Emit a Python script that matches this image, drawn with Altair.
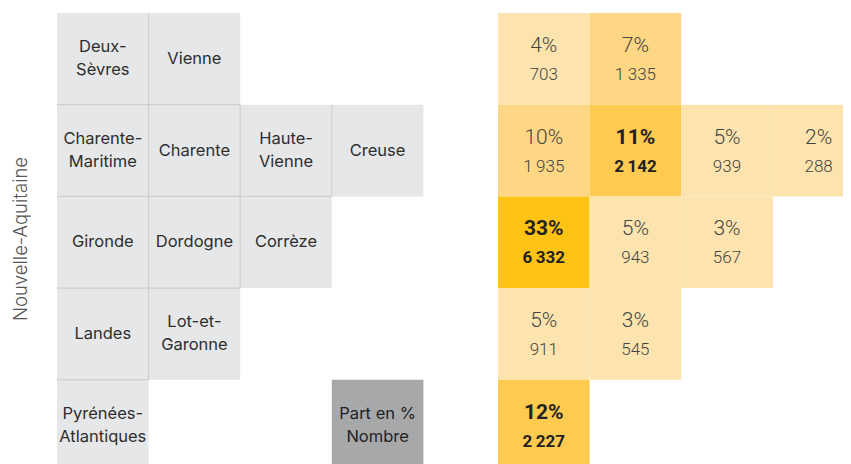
import altair as alt
import pandas as pd

# ---- data ----
names = ["Deux-\nSèvres", "Vienne", "Charente-\nMaritime", "Charente", "Haute-\nVienne",
         "Creuse", "Gironde", "Dordogne", "Corrèze", "Landes", "Lot-et-\nGaronne",
         "Pyrénées-\nAtlantiques"]
cols = [0, 1, 0, 1, 2, 3, 0, 1, 2, 0, 1, 0]
rows = [0, 0, 1, 1, 1, 1, 2, 2, 2, 3, 3, 4]
shares = [4, 7, 10, 11, 5, 2, 33, 5, 3, 5, 3, 12]
counts = [703, 1335, 1935, 2142, 939, 288, 6332, 943, 567, 911, 545, 2227]
legend_text = ["Part en %\nNombre"]
legend_col = [3]
legend_row = [4]
region = ["Nouvelle-Aquitaine"]

df = pd.DataFrame({
    "name": names, "col": cols, "row": rows, "share": shares, "count": counts,
})
df["pct_label"] = [f"{s}%" for s in shares]
df["count_label"] = [f"{c:,}".replace(",", "\u2009") for c in counts]
occupied = set(zip(cols, rows))
df["has_left"] = [(c - 1, r) in occupied for c, r in zip(cols, rows)]
df["has_up"] = [(c, r - 1) in occupied for c, r in zip(cols, rows)]
leg = pd.DataFrame({"name": legend_text, "col": legend_col, "row": legend_row})
reg = pd.DataFrame({"t": region})

# ---- layout ----
W, H = 835, 470
X_LEFT, X_RIGHT, Y_TOP = 57, 498, 13
CW, CH = 91.6, 91.7
LINE_H = 23
NAME_FONT = "Inter"
NUM_FONT = "Roboto"

xs = alt.Scale(domain=[8, 8 + W], nice=False, zero=False)
ys = alt.Scale(domain=[8, 8 + H], nice=False, zero=False, reverse=True)


def place(chart, x0):
    return chart.transform_calculate(
        x0=f"{x0} + datum.col * {CW}",
        x1=f"{x0} + (datum.col + 1) * {CW}",
        xc=f"{x0} + (datum.col + 0.5) * {CW}",
        y0=f"{Y_TOP} + datum.row * {CH}",
        y1=f"{Y_TOP} + (datum.row + 1) * {CH}",
        yc=f"{Y_TOP} + (datum.row + 0.5) * {CH} - (indexof(datum.name, '\\n') >= 0 ? {LINE_H / 2} : 0)",
        yp=f"{Y_TOP} + (datum.row + 0.5) * {CH} - 13",
        yn=f"{Y_TOP} + (datum.row + 0.5) * {CH} + 16",
        level="datum.share >= 30 ? 'd' : datum.share >= 11 ? 'c' : datum.share >= 7 ? 'b' : 'a'",
    )


rect_enc = dict(
    x=alt.X("x0:Q", scale=xs, axis=None), x2="x1:Q",
    y=alt.Y("y0:Q", scale=ys, axis=None), y2="y1:Q",
)

# left grid: department names
left_rect = place(alt.Chart(df).mark_rect(fill="#e6e7e8"), X_LEFT).encode(**rect_enc)
v_lines = place(alt.Chart(df).mark_rule(color="#c9c9c9", strokeWidth=1), X_LEFT).transform_filter(
    "datum.has_left").encode(x=alt.X("x0:Q", scale=xs, axis=None),
                             y=alt.Y("y0:Q", scale=ys, axis=None), y2="y1:Q")
h_lines = place(alt.Chart(df).mark_rule(color="#c9c9c9", strokeWidth=1), X_LEFT).transform_filter(
    "datum.has_up").encode(y=alt.Y("y0:Q", scale=ys, axis=None),
                           x=alt.X("x0:Q", scale=xs, axis=None), x2="x1:Q")
left_text = place(alt.Chart(df).mark_text(
    font=NAME_FONT, fontSize=16.5, color="#2e2e2e", lineBreak="\n", lineHeight=LINE_H, baseline="middle"
), X_LEFT).encode(
    x=alt.X("xc:Q", scale=xs, axis=None), y=alt.Y("yc:Q", scale=ys, axis=None), text="name:N"
)

# legend cell
leg_rect = place(alt.Chart(leg).mark_rect(fill="#a7a8aa"), X_LEFT).encode(**rect_enc)
leg_text = place(alt.Chart(leg).mark_text(
    font=NAME_FONT, fontSize=16.5, color="#222222", lineBreak="\n", lineHeight=LINE_H, baseline="middle"
), X_LEFT).encode(
    x=alt.X("xc:Q", scale=xs, axis=None), y=alt.Y("yc:Q", scale=ys, axis=None), text="name:N"
)

# right grid: shares and counts
color_scale = alt.Scale(domain=["a", "b", "c", "d"],
                        range=["#fde4af", "#fdd784", "#fecb50", "#ffc316"])
right_rect = place(alt.Chart(df).mark_rect(), X_RIGHT).encode(
    **rect_enc, color=alt.Color("level:N", scale=color_scale, legend=None)
)

xy_p = dict(x=alt.X("xc:Q", scale=xs, axis=None), y=alt.Y("yp:Q", scale=ys, axis=None))
xy_n = dict(x=alt.X("xc:Q", scale=xs, axis=None), y=alt.Y("yn:Q", scale=ys, axis=None))

pct_reg = place(alt.Chart(df).mark_text(font=NUM_FONT, fontSize=21, fontWeight=300, color="#444444", baseline="middle"),
                X_RIGHT).transform_filter("datum.share < 11").encode(**xy_p, text="pct_label:N")
pct_bold = place(alt.Chart(df).mark_text(font=NUM_FONT, fontSize=21, fontWeight="bold", color="#222222", baseline="middle"),
                 X_RIGHT).transform_filter("datum.share >= 11").encode(**xy_p, text="pct_label:N")
cnt_reg = place(alt.Chart(df).mark_text(font=NUM_FONT, fontSize=17, fontWeight=300, color="#444444", baseline="middle"),
                X_RIGHT).transform_filter("datum.share < 11").encode(**xy_n, text="count_label:N")
cnt_bold = place(alt.Chart(df).mark_text(font=NUM_FONT, fontSize=17, fontWeight="bold", color="#222222", baseline="middle"),
                 X_RIGHT).transform_filter("datum.share >= 11").encode(**xy_n, text="count_label:N")

# vertical region label
region_text = alt.Chart(reg).mark_text(
    font=NAME_FONT, fontSize=18.5, fontWeight=300, color="#555555", angle=270,
    baseline="alphabetic", align="center"
).encode(x=alt.value(19), y=alt.value(231), text="t:N")

chart = alt.layer(
    left_rect, v_lines, h_lines, left_text, leg_rect, leg_text, right_rect,
    pct_reg, pct_bold, cnt_reg, cnt_bold, region_text
).properties(
    width=W, height=H, padding=0, autosize="none"
).configure_view(stroke=None)

chart.save("out.html", embed_options={"renderer": "svg", "actions": False})
